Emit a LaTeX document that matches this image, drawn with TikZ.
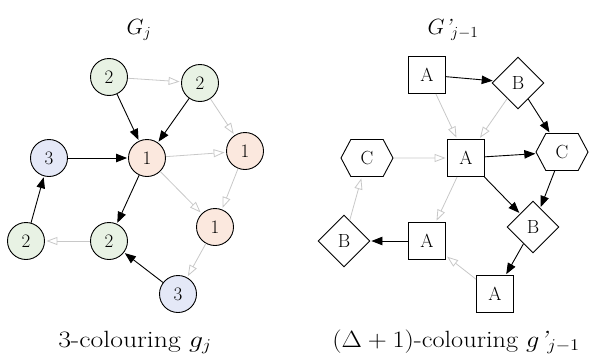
\documentclass[tikz,border=0pt]{standalone}
\usepackage{graphicx}
\usepackage{fix-cm}
\usetikzlibrary{shapes.geometric,shapes.symbols,arrows.meta}
\definecolor{cgreen}{RGB}{232,242,228}
\definecolor{cpink}{RGB}{251,232,222}
\definecolor{cblue}{RGB}{228,232,247}
\definecolor{cgray}{RGB}{200,200,200}
\newcommand{\wide}[2]{\scalebox{#1}[1]{#2}}
\tikzset{
  lbl/.style={font=\fontsize{19}{21}\selectfont},
  circ/.style={circle,draw,line width=0.9pt,minimum size=37pt,inner sep=0pt,lbl},
  gn/.style={circ,fill=cgreen},
  pn/.style={circ,fill=cpink},
  bn/.style={circ,fill=cblue},
  sq/.style={rectangle,draw,line width=0.9pt,minimum size=37pt,inner sep=0pt,lbl},
  dia/.style={diamond,draw,line width=0.9pt,minimum width=52pt,minimum height=52pt,inner sep=0pt,lbl},
  hex/.style={signal,signal to=east and west,signal pointer angle=124,draw,line width=0.9pt,minimum width=52pt,minimum height=37pt,inner sep=0pt,lbl},
  blk/.style={line width=0.9pt,-{Triangle[length=11pt,width=8.5pt]},shorten >=1pt},
  gry/.style={line width=0.8pt,cgray,-{Triangle[open,length=11pt,width=8pt]},shorten >=1.5pt},
  ttl/.style={font=\fontsize{22}{24}\selectfont,anchor=base,inner sep=0pt},
  captxt/.style={font=\fontsize{23.5}{26}\selectfont,anchor=base,inner sep=0pt}
}
\begin{document}
\begin{tikzpicture}[x=1pt,y=-1pt]
\useasboundingbox (0,0) rectangle (589,359);
% left graph
\node[ttl] (tl) at (139,34) {$G_j$};
\node[gn] (a) at (109,77) {2};
\node[gn] (b) at (200,83) {2};
\node[pn] (c) at (147,158) {1};
\node[pn] (d) at (245,151) {1};
\node[bn] (e) at (49,158) {3};
\node[pn] (f) at (215,227) {1};
\node[gn] (g) at (26,241) {2};
\node[gn] (h) at (109,241) {2};
\node[bn] (i) at (178,294) {3};
\node[captxt] (cl) at (135,347) {\wide{1.18}{3-colouring $g_j$}};
\draw[gry] (a) -- (b);
\draw[blk] (a) -- (c);
\draw[blk] (b) -- (c);
\draw[gry] (b) -- (d);
\draw[blk] (e) -- (c);
\draw[gry] (c) -- (d);
\draw[gry] (c) -- (f);
\draw[gry] (d) -- (f);
\draw[blk] (c) -- (h);
\draw[gry] (f) -- (i);
\draw[blk] (i) -- (h);
\draw[gry] (h) -- (g);
\draw[blk] (g) -- (e);
% right graph
\node[ttl] (tr) at (453,34) {$G\mbox{\itshape ’}_{j-1}$};
\node[sq] (A1) at (427,75) {A};
\node[dia] (B1) at (518,83) {B};
\node[sq] (A2) at (466,158) {A};
\node[hex] (C1) at (367,158) {C};
\node[hex] (C2) at (562,152) {C};
\node[dia] (B2) at (533,227) {B};
\node[sq] (A3) at (427,241) {A};
\node[dia] (B3) at (344,241) {B};
\node[sq] (A4) at (495,294) {A};
\node[captxt] (cr) at (456,347) {\wide{1.12}{($\Delta+1$)-colouring $g\mbox{\itshape ’}_{j-1}$}};
\draw[blk] (A1) -- (B1);
\draw[blk] (B1) -- (C2);
\draw[gry] (A1) -- (A2);
\draw[gry] (B1) -- (A2);
\draw[gry] (C1) -- (A2);
\draw[blk] (A2) -- (C2);
\draw[blk] (A2) -- (B2);
\draw[blk] (C2) -- (B2);
\draw[gry] (A2) -- (A3);
\draw[blk] (A3) -- (B3);
\draw[gry] (B3) -- (C1);
\draw[blk] (B2) -- (A4);
\draw[gry] (A4) -- (A3);
\end{tikzpicture}
\end{document}
